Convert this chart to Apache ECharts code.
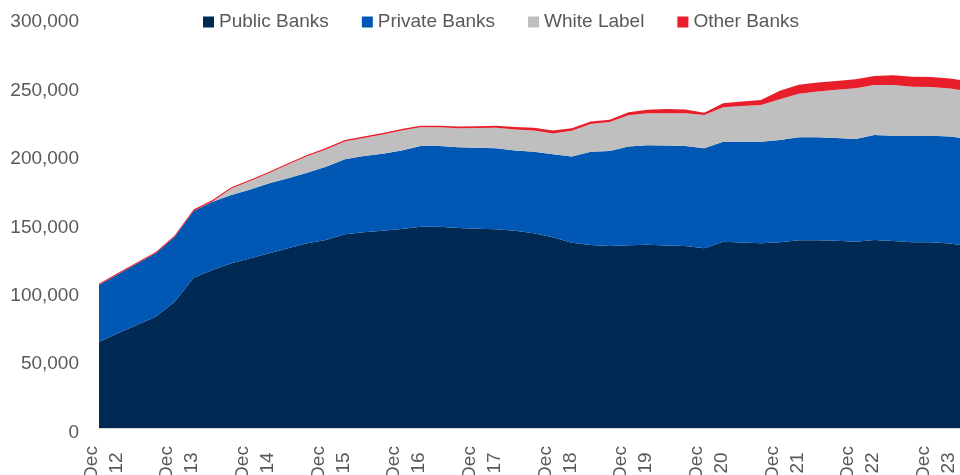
<!DOCTYPE html>
<html>
<head>
<meta charset="utf-8">
<title>ATMs by bank group</title>
<script src="https://cdn.jsdelivr.net/npm/echarts@6/dist/echarts.min.js"></script>
<style>
  html, body { margin: 0; padding: 0; background: #ffffff; }
  #chart { width: 960px; height: 475px; }
</style>
</head>
<body>
<div id="chart"></div>
<script>
// Quarter-end labels, Dec 2012 to Jun 2024
const quarters = [
  'Dec 12', 'Mar 13', 'Jun 13', 'Sep 13', 'Dec 13', 'Mar 14', 'Jun 14', 'Sep 14',
  'Dec 14', 'Mar 15', 'Jun 15', 'Sep 15', 'Dec 15', 'Mar 16', 'Jun 16', 'Sep 16',
  'Dec 16', 'Mar 17', 'Jun 17', 'Sep 17', 'Dec 17', 'Mar 18', 'Jun 18', 'Sep 18',
  'Dec 18', 'Mar 19', 'Jun 19', 'Sep 19', 'Dec 19', 'Mar 20', 'Jun 20', 'Sep 20',
  'Dec 20', 'Mar 21', 'Jun 21', 'Sep 21', 'Dec 21', 'Mar 22', 'Jun 22', 'Sep 22',
  'Dec 22', 'Mar 23', 'Jun 23', 'Sep 23', 'Dec 23', 'Mar 24', 'Jun 24'
];

// Number of ATMs per bank group
const publicBanks = [
  63100, 69200, 75300, 81400, 92300, 109900, 115500, 120400,
  124000, 127700, 131400, 135000, 137400, 141600, 143100, 144200,
  145500, 147200, 147200, 146200, 145700, 145300, 144100, 142300,
  139400, 135500, 133800, 133000, 133500, 134000, 133400, 133000,
  131400, 136200, 135600, 135000, 135700, 137200, 137200, 136900,
  136200, 137400, 136700, 135700, 135700, 134900, 132800
];
const privateBanks = [
  41400, 43100, 44700, 46300, 47500, 48800, 49900, 49900,
  50400, 51200, 51200, 51600, 53600, 54800, 55800, 56300,
  57400, 59000, 59000, 59100, 59100, 59200, 58700, 59700,
  60700, 62900, 68200, 69400, 72200, 72700, 73100, 73100,
  73100, 73100, 73700, 74300, 74800, 75300, 75300, 75100,
  75100, 76800, 77000, 77700, 77900, 78200, 78700
];
const whiteLabel = [
  0, 0, 0, 0, 0, 0, 200, 4750,
  6100, 7500, 10000, 12000, 12500, 13000, 13000, 14100,
  14500, 13600, 13600, 13900, 14500, 15000, 15400, 15500,
  15200, 18800, 20200, 21200, 23000, 23400, 23500, 23900,
  24300, 25100, 26000, 26800, 29800, 31900, 33400, 35300,
  37100, 36600, 37100, 36000, 35600, 35100, 34600
];
const otherBanks = [
  1000, 1000, 1000, 1000, 1000, 1000, 1000, 1000,
  1000, 1000, 1000, 1000, 1100, 1100, 1100, 1100,
  1200, 1200, 1200, 1200, 1200, 1500, 1800, 2000,
  2200, 2000, 1800, 1800, 2200, 2600, 3100, 2900,
  1700, 2900, 3300, 3700, 6300, 6600, 6600, 6400,
  6600, 6600, 7100, 7300, 7300, 7300, 7300
];

const yTicks = { min: 0, max: 300000, step: 50000 };

const FONT = 'Liberation Sans';
const TEXT = '#595959';

const groups = [
  { name: 'Public Banks', data: publicBanks, color: '#002A54' },
  { name: 'Private Banks', data: privateBanks, color: '#0058B4' },
  { name: 'White Label', data: whiteLabel, color: '#BFBFBF' },
  { name: 'Other Banks', data: otherBanks, color: '#E81E2B' }
];

const chart = echarts.init(document.getElementById('chart'), null, { renderer: 'canvas' });

chart.setOption({
  animation: false,
  backgroundColor: '#ffffff',
  textStyle: { fontFamily: FONT },
  legend: {
    left: 198,
    top: 7.5,
    icon: 'rect',
    itemWidth: 11,
    itemHeight: 11,
    itemGap: 33,
    textStyle: { fontFamily: FONT, fontSize: 19, color: TEXT },
    data: groups.map(g => g.name)
  },
  grid: {
    left: 99,
    right: -9,
    top: 17.6,
    bottom: 47,
    containLabel: false,
    outerBoundsMode: 'none'
  },
  xAxis: {
    type: 'category',
    boundaryGap: false,
    data: quarters,
    axisLine: { lineStyle: { color: '#D9D9D9', width: 1 } },
    axisTick: { show: false },
    splitLine: { show: false },
    axisLabel: {
      interval: 3,
      rotate: 90,
      align: 'center',
      verticalAlign: 'middle',
      margin: 35,
      fontFamily: FONT,
      fontSize: 19,
      color: TEXT,
      hideOverlap: false,
      // month and year on two columns; a short spacer row nudges the pair off the tick
      formatter: v => {
        const [m, y] = v.split(' ');
        return '{s| }\n{t|' + m + '}\n{t|' + y + '}';
      },
      rich: {
        s: { lineHeight: 10, fontSize: 1 },
        t: { lineHeight: 25, fontSize: 19, fontFamily: FONT, color: TEXT, align: 'center' }
      }
    }
  },
  yAxis: {
    type: 'value',
    min: yTicks.min,
    max: yTicks.max,
    interval: yTicks.step,
    axisLine: { show: false },
    axisTick: { show: false },
    splitLine: { show: false },
    axisLabel: {
      margin: 20,
      verticalAlign: 'top',
      lineHeight: 9,
      fontFamily: FONT,
      fontSize: 19,
      color: TEXT,
      formatter: v => v.toLocaleString('en-US')
    }
  },
  series: groups.map(g => ({
    name: g.name,
    type: 'line',
    stack: 'atms',
    data: g.data,
    showSymbol: false,
    symbol: 'none',
    lineStyle: { width: 0 },
    itemStyle: { color: g.color },
    areaStyle: { color: g.color, opacity: 1 },
    emphasis: { disabled: true }
  }))
});
</script>
</body>
</html>
